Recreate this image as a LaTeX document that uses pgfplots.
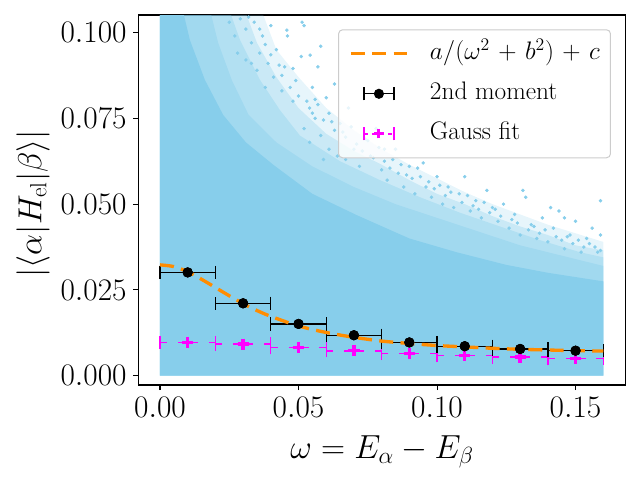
\RequirePackage{fix-cm}
\documentclass[border=0pt]{standalone}
\usepackage{pgfplots}
\pgfplotsset{compat=1.18}
\definecolor{skyblue}{RGB}{135,206,235}
\definecolor{forange}{RGB}{255,140,0}
\definecolor{mag}{RGB}{255,0,255}
\newcommand{\tickfont}{\fontsize{23.5}{28}\selectfont}
\newcommand{\labfont}{\fontsize{25}{30}\selectfont}
\newcommand{\legfont}{\fontsize{19}{22}\selectfont}
\begin{document}
\begin{tikzpicture}
\begin{axis}[
  at={(0,0)}, anchor=south west,
  width=365.4pt, height=277.5pt, scale only axis,
  xmin=-0.00776, xmax=0.1681, ymin=-0.0027, ymax=0.1051,
  axis line style={line width=0.8pt},
  xtick={0,0.05,0.1,0.15}, xticklabels={$0.00$,$0.05$,$0.10$,$0.15$},
  ytick={0,0.025,0.05,0.075,0.1}, yticklabels={$0.000$,$0.025$,$0.050$,$0.075$,$0.100$},
  tick align=outside, xtick pos=bottom, ytick pos=left,
  major tick length=3.75pt, tick style={line width=0.8pt, black},
  minor tick num=0,
  ticklabel style={font=\tickfont, inner sep=0pt},
  xticklabel style={yshift=-5pt},
  yticklabel style={xshift=-5pt},
  xlabel={$\omega = E_\alpha - E_\beta$},
  ylabel={$|\langle \alpha | H_{\mathrm{el}} | \beta \rangle|$},
  every axis x label/.style={at={(axis description cs:0.5,-0.1351)}, anchor=north, inner sep=0pt, font=\labfont},
  every axis y label/.style={at={(axis description cs:-0.1817,0.49)}, rotate=90, anchor=south, inner sep=0pt, font=\labfont},
  reverse legend,
  legend style={at={(axis description cs:0.9698,0.9614)}, anchor=north east,
    draw=black!20, line width=0.75pt, rounded corners=3pt,
    fill=white, fill opacity=0.8, draw opacity=1, text opacity=1,
    inner xsep=8pt, inner ysep=8.5pt, row sep=11pt, column sep=16pt,
    font=\legfont, cells={anchor=west},
    nodes={inner sep=0pt, text height=14pt, text depth=5pt}},
]
% point cloud, drawn as nested density layers
\addplot[draw=none, fill=skyblue, fill opacity=0.2, forget plot] coordinates {
(0,0.11) (0.035,0.11) (0.042,0.095) (0.05,0.087) (0.06,0.078) (0.07,0.0715)
(0.08,0.066) (0.09,0.0615) (0.10,0.0575) (0.11,0.0535) (0.12,0.050) (0.13,0.047)
(0.14,0.044) (0.15,0.0415) (0.16,0.039) (0.16,0) (0,0)} -- cycle;
\addplot[draw=none, fill=skyblue, fill opacity=0.3, forget plot] coordinates {
(0,0.11) (0.029,0.11) (0.035,0.097) (0.042,0.087) (0.05,0.078) (0.06,0.0705)
(0.07,0.0655) (0.08,0.0615) (0.09,0.057) (0.10,0.053) (0.11,0.050) (0.12,0.0465)
(0.13,0.0435) (0.14,0.041) (0.15,0.038) (0.16,0.0365) (0.16,0) (0,0)} -- cycle;
\addplot[draw=none, fill=skyblue, fill opacity=0.35, forget plot] coordinates {
(0,0.11) (0.0235,0.11) (0.0289,0.0978) (0.0361,0.0862) (0.0433,0.0774)
(0.0505,0.0700) (0.065,0.0625) (0.0794,0.0570) (0.0939,0.0520) (0.1083,0.0475)
(0.1227,0.0435) (0.1372,0.0395) (0.1516,0.0360) (0.16,0.0345) (0.16,0) (0,0)} -- cycle;
\addplot[draw=none, fill=skyblue, fill opacity=0.4, forget plot] coordinates {
(0,0.11) (0.017,0.11) (0.021,0.097) (0.026,0.086) (0.032,0.076) (0.042,0.068)
(0.055,0.061) (0.07,0.055) (0.085,0.050) (0.10,0.046) (0.115,0.042) (0.13,0.038)
(0.145,0.035) (0.16,0.032) (0.16,0) (0,0)} -- cycle;
\addplot[draw=none, fill=skyblue, forget plot] coordinates {
(0,0.11) (0.0072,0.11) (0.0108,0.0978) (0.0162,0.0862) (0.0228,0.076)
(0.031,0.068) (0.041,0.0614) (0.055,0.053) (0.071,0.0468) (0.09,0.040)
(0.107,0.036) (0.125,0.0323) (0.14,0.030) (0.16,0.0275) (0.16,0) (0,0)} -- cycle;
% sparse scattered points at the cloud's edge
\addplot[skyblue, only marks, mark=*, mark size=1.1pt, mark options={skyblue, fill=skyblue}, forget plot] coordinates {
(0.025,0.103) (0.027,0.099) (0.029,0.104) (0.031,0.101) (0.033,0.097) (0.034,0.103)
(0.036,0.094) (0.037,0.099) (0.039,0.091) (0.040,0.102) (0.041,0.087) (0.042,0.095)
(0.044,0.083) (0.045,0.090) (0.046,0.099) (0.048,0.080) (0.049,0.086) (0.051,0.093)
(0.052,0.102) (0.054,0.078) (0.055,0.084) (0.057,0.090) (0.058,0.096) (0.031,0.092)
(0.035,0.089) (0.038,0.084) (0.028,0.094) (0.033,0.091) (0.0458,0.1007) (0.0513,0.103) (0.0542,0.0934)
(0.052,0.072) (0.054,0.068) (0.056,0.075) (0.058,0.070) (0.060,0.081) (0.061,0.066)
(0.062,0.074) (0.063,0.085) (0.064,0.064) (0.066,0.071) (0.068,0.078) (0.070,0.066)
(0.072,0.061) (0.074,0.069) (0.076,0.064) (0.078,0.072) (0.059,0.063) (0.057,0.079) (0.067,0.063)
(0.080,0.060) (0.082,0.057) (0.084,0.063) (0.086,0.059) (0.088,0.055) (0.090,0.061)
(0.092,0.053) (0.094,0.058) (0.096,0.055) (0.098,0.052) (0.100,0.058) (0.102,0.050)
(0.104,0.055) (0.106,0.049) (0.108,0.053) (0.110,0.058) (0.112,0.048) (0.114,0.051)
(0.116,0.046) (0.118,0.054) (0.120,0.049) (0.085,0.066) (0.095,0.062) (0.081,0.066)
(0.122,0.045) (0.124,0.050) (0.126,0.043) (0.128,0.047) (0.130,0.041) (0.132,0.052)
(0.134,0.044) (0.136,0.040) (0.138,0.046) (0.140,0.039) (0.142,0.043) (0.144,0.048)
(0.146,0.037) (0.148,0.041) (0.150,0.045) (0.152,0.036) (0.154,0.040) (0.156,0.043)
(0.158,0.036) (0.159,0.041) (0.159,0.051) (0.131,0.054) (0.141,0.049) (0.146,0.046)
(0.030,0.106) (0.032,0.1045) (0.036,0.101) (0.038,0.0965) (0.040,0.0935) (0.043,0.0905)
(0.044,0.0875) (0.047,0.084) (0.048,0.0895) (0.050,0.0815) (0.053,0.080) (0.055,0.0765)
(0.056,0.0805) (0.059,0.0745) (0.061,0.0765) (0.063,0.0715) (0.065,0.0735) (0.067,0.0695)
(0.069,0.0725) (0.071,0.0675) (0.073,0.0655) (0.075,0.0685) (0.077,0.0635) (0.079,0.0665)
(0.081,0.0625) (0.083,0.0605) (0.087,0.0615) (0.089,0.0585) (0.091,0.0575) (0.093,0.0605)
(0.097,0.0565) (0.099,0.0545) (0.101,0.0555) (0.103,0.0525) (0.105,0.0535) (0.109,0.0505)
(0.111,0.0525) (0.113,0.0495) (0.115,0.0485) (0.117,0.0505) (0.119,0.0475) (0.121,0.0485)
(0.123,0.0465) (0.127,0.0455) (0.129,0.0445) (0.133,0.0425) (0.135,0.0435) (0.137,0.0415)
(0.139,0.0425) (0.143,0.0405) (0.145,0.0395) (0.147,0.0405) (0.149,0.0385) (0.151,0.0395)
(0.153,0.0375) (0.155,0.0385) (0.157,0.0375) (0.159,0.0365)
};
% Gauss fit
\addplot[mag, only marks, mark=+, mark size=4.2pt, mark options={line width=2.6pt, mag, solid},
  legend image code/.code={
    \draw[opacity=0] (0pt,0pt) -- (42pt,0pt);
    \draw[mag, line width=1.3pt, dash pattern=on 3pt off 3pt] (9.75pt,0pt) -- (32.25pt,0pt);
    \draw[mag, line width=1pt] (9.75pt,-5pt) -- (9.75pt,5pt);
    \draw[mag, line width=1pt] (32.25pt,-5pt) -- (32.25pt,5pt);
    \draw[mag, line width=2.2pt] (17.5pt,0pt) -- (24.5pt,0pt);
    \draw[mag, line width=2.2pt] (21pt,-3.5pt) -- (21pt,3.5pt);},
  error bars/.cd, x dir=both, x explicit, error mark=|,
  error bar style={line width=1.3pt, mag, dash pattern=on 7.5pt off 8.2pt},
  error mark options={mag, mark size=5pt, line width=1pt, solid}]
  table[x=x, y=y, x error=ex] {
x y ex
0.01 0.0097 0.01
0.03 0.0092 0.01
0.05 0.0082 0.01
0.07 0.0073 0.01
0.09 0.0065 0.01
0.11 0.0059 0.01
0.13 0.0054 0.01
0.15 0.0050 0.01
};
\addlegendentry{Gauss fit}
% 2nd moment
\addplot[black, only marks, mark=*, mark size=3.6pt, mark options={black, fill=black},
  legend image code/.code={
    \draw[opacity=0] (0pt,0pt) -- (42pt,0pt);
    \draw[black, line width=1pt] (9.75pt,0pt) -- (32.25pt,0pt);
    \draw[black, line width=1pt] (9.75pt,-5pt) -- (9.75pt,5pt);
    \draw[black, line width=1pt] (32.25pt,-5pt) -- (32.25pt,5pt);
    \fill[black, fill opacity=1] (21pt,0pt) circle (3.4pt);},
  error bars/.cd, x dir=both, x explicit, error mark=|,
  error bar style={line width=1pt, black},
  error mark options={black, mark size=5pt, line width=1pt}]
  table[x=x, y=y, x error=ex] {
x y ex
0.01 0.0301 0.01
0.03 0.0211 0.01
0.05 0.0151 0.01
0.07 0.0118 0.01
0.09 0.0097 0.01
0.11 0.0086 0.01
0.13 0.0078 0.01
0.15 0.0073 0.01
};
\addlegendentry{2nd moment}
% fit a/(w^2+b^2)+c, tabulated
\addplot[forange, line width=2.5pt, dash pattern=on 10.5pt off 5.5pt, smooth,
  legend image code/.code={
    \draw[forange, line width=2.5pt, dash pattern=on 10.5pt off 5.5pt, draw opacity=1] (0pt,0pt) -- (42pt,0pt);}]
  coordinates {
(0.000,0.0323) (0.005,0.0318) (0.010,0.0303) (0.015,0.0281) (0.020,0.0257)
(0.025,0.0233) (0.030,0.0210) (0.035,0.0190) (0.040,0.0173) (0.050,0.0145)
(0.060,0.0126) (0.070,0.0112) (0.080,0.0101) (0.090,0.0094) (0.100,0.0088)
(0.110,0.0084) (0.120,0.0080) (0.130,0.0077) (0.140,0.0075) (0.150,0.0073)
(0.160,0.0072)};
\addlegendentry{{\medmuskip=6mu $a/(\omega^2+b^2)+c$}}
% black markers again on top of the fit line
\addplot[black, only marks, mark=*, mark size=3.6pt, mark options={black, fill=black}, forget plot]
  coordinates {(0.01,0.0301) (0.03,0.0211) (0.05,0.0151) (0.07,0.0118)
  (0.09,0.0097) (0.11,0.0086) (0.13,0.0078) (0.15,0.0073)};
\end{axis}
\path (-103.875pt,-71.25pt) rectangle (376.125pt,288.75pt);
\end{tikzpicture}
\end{document}
